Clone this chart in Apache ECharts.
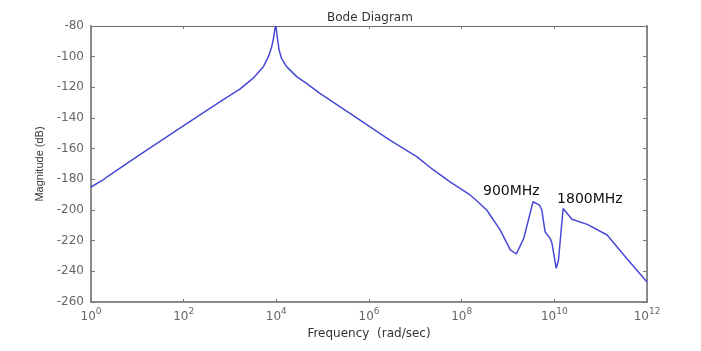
<!DOCTYPE html>
<html><head><meta charset="utf-8">
<script src="https://cdn.jsdelivr.net/npm/echarts@6/dist/echarts.min.js"></script>
<style>html,body{margin:0;padding:0;background:#fff}#c{width:701px;height:351px}</style>
</head><body><div id="c"></div>
<script>
// log10 of frequency (rad/sec)
const logFreq = [0, 0.27, 0.34, 1, 2, 2.78, 3.22, 3.5, 3.72, 3.83, 3.9, 3.94, 3.97, 3.99, 4.02, 4.06, 4.11, 4.22, 4.44, 4.65, 4.94, 5.59, 6.45, 7.03, 7.39, 7.75, 8.18, 8.29, 8.54, 8.83, 9.05, 9.18, 9.34, 9.54, 9.68, 9.73, 9.80, 9.91, 9.95, 10.04, 10.09, 10.19, 10.38, 10.71, 11.14, 11.50, 12];
// magnitude (dB)
const magnitudeDb = [-185, -180.2, -178.5, -165, -145, -129.5, -121, -114, -106.5, -100, -93.5, -88, -81.5, -80, -87, -95.7, -101, -106.5, -113, -117.4, -124, -137, -154.4, -165.2, -173.9, -181.6, -190.2, -193, -200, -213, -226, -228.7, -218.5, -194.6, -196.8, -200, -214.2, -218.5, -221.8, -238, -232.6, -199, -206, -209.4, -216.3, -229.4, -247];
const annotationNames = ['900MHz', '1800MHz'];
const annotationLogFreq = [8.46, 10.06];
const annotationDb = [-187.6, -192.8];

const points = logFreq.map((e, i) => [Math.pow(10, e), magnitudeDb[i]]);
const marks = annotationNames.map((n, i) => ({ name: n, coord: [Math.pow(10, annotationLogFreq[i]), annotationDb[i]] }));

const axisCol = '#8a8a8a';
const labelCol = '#666';
const font = 'DejaVu Sans';

const chart = echarts.init(document.getElementById('c'), null, { renderer: 'canvas' });
chart.setOption({
  animation: false,
  backgroundColor: '#fff',
  title: {
    text: 'Bode Diagram', left: 322, top: 7,
    textStyle: { fontFamily: font, fontSize: 12, fontWeight: 'normal', color: '#333' }
  },
  grid: { left: 91, right: 54, top: 26, bottom: 49, containLabel: false },
  xAxis: [{
    type: 'log', logBase: 10, min: 1, max: 1e12, interval: 2, position: 'bottom',
    name: 'Frequency  (rad/sec)', nameLocation: 'middle', nameGap: 21,
    nameTextStyle: { fontFamily: font, fontSize: 12, color: '#333' },
    axisLine: { lineStyle: { color: axisCol, width: 2 } },
    axisTick: { inside: true, length: 3, lineStyle: { color: '#777' } },
    axisLabel: {
      margin: 5,
      formatter: v => '{b|10}{s|' + Math.round(Math.log10(v)) + '}',
      rich: {
        b: { fontFamily: font, fontSize: 12, color: labelCol, verticalAlign: 'bottom' },
        s: { fontFamily: font, fontSize: 9, color: labelCol, padding: [0, 0, 7, 0], verticalAlign: 'bottom' }
      }
    },
    splitLine: { show: false }, minorTick: { show: false }
  }, {
    type: 'log', logBase: 10, min: 1, max: 1e12, interval: 2, position: 'top',
    axisLine: { lineStyle: { color: '#666', width: 1 } },
    axisTick: { inside: true, length: 3, lineStyle: { color: '#777' } },
    axisLabel: { show: false }, splitLine: { show: false }
  }],
  yAxis: [{
    type: 'value', min: -260, max: -80, interval: 20, position: 'left',
    name: 'Magnitude (dB)', nameLocation: 'middle', nameGap: 44, nameRotate: 90,
    nameTextStyle: { fontFamily: 'Liberation Sans', fontSize: 11, color: '#333' },
    axisLine: { show: true, lineStyle: { color: axisCol, width: 2 } },
    axisTick: { show: true, inside: true, length: 4, lineStyle: { color: '#777' } },
    axisLabel: { fontFamily: font, fontSize: 12, color: labelCol, margin: 7 },
    splitLine: { show: false }
  }, {
    type: 'value', min: -260, max: -80, interval: 20, position: 'right',
    axisLine: { show: true, lineStyle: { color: axisCol, width: 2 } },
    axisTick: { show: true, inside: true, length: 4, lineStyle: { color: '#777' } },
    axisLabel: { show: false }, splitLine: { show: false }
  }],
  series: [{
    type: 'line', data: points, symbol: 'none', xAxisIndex: 0, yAxisIndex: 0,
    lineStyle: { color: '#4848d8', width: 1.5 },
    silent: true,
    markPoint: {
      silent: true, symbol: 'circle', symbolSize: 0,
      label: {
        show: true, position: 'right', distance: 0, formatter: p => p.name,
        fontFamily: font, fontSize: 14, color: '#111'
      },
      data: marks
    }
  }]
});
</script></body></html>
